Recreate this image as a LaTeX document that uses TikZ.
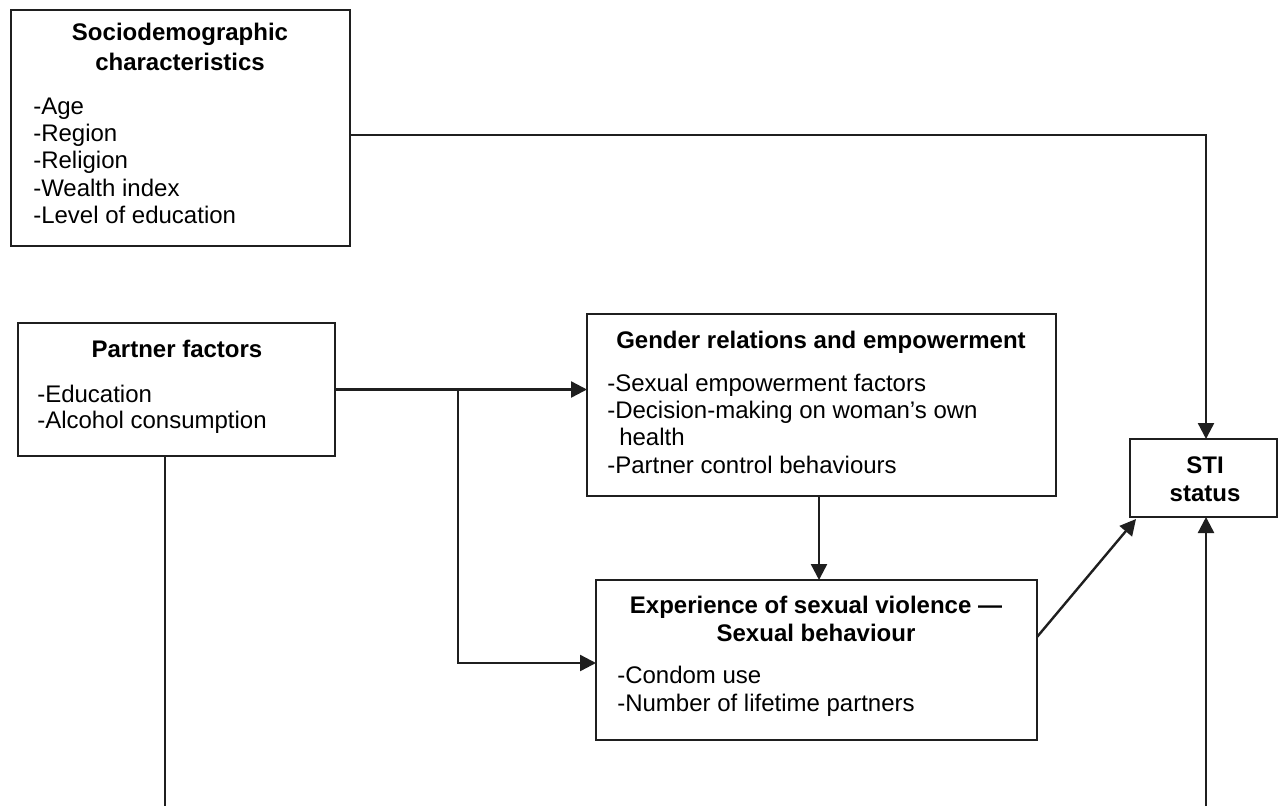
\documentclass[tikz,border=0pt]{standalone}
\usepackage{fontspec}
\setmainfont{Liberation Sans}
\usetikzlibrary{arrows.meta,calc}
\begin{document}
\begin{tikzpicture}[x=0.75pt,y=-0.75pt,
  box/.style={draw=black!88, line width=1.5pt, inner sep=0pt, outer sep=0pt},
  bx/.style n args={2}{box, anchor=north west, minimum width={#1*0.75pt}, minimum height={#2*0.75pt}},
  ttl/.style={font=\fontsize{18pt}{21pt}\selectfont\bfseries, anchor=base, inner sep=0pt},
  itm/.style={font=\fontsize{18pt}{21pt}\selectfont, anchor=base west, inner sep=0pt},
  conn/.style={line width=1.8pt, draw=black!88},
  arr/.style={conn, -{Triangle[length=12pt,width=12pt]}}]
\useasboundingbox (0,0) rectangle (1280,806);

% boxes
\node[bx={339}{236}] (socio) at (11,10) {};
\node[bx={317}{133}] (partner) at (18,323) {};
\node[bx={469}{182}] (gender) at (587,314) {};
\node[bx={441}{160}] (exper) at (596,580) {};
\node[bx={147}{78}] (sti) at (1130,439) {};

% socio texts
\node[ttl] (s1) at (180,41) {Sociodemographic};
\node[ttl] (s2) at (180,71) {characteristics};
\node[itm] (s3) at (33,115) {-Age};
\node[itm] (s4) at (33,142) {-Region};
\node[itm] (s5) at (33,169) {-Religion};
\node[itm] (s6) at (33,196) {-Wealth index};
\node[itm] (s7) at (33,223) {-Level of education};

% partner texts
\node[ttl] (p1) at (177,357) {Partner factors};
\node[itm] (p2) at (37,402) {-Education};
\node[itm] (p3) at (37,428) {-Alcohol consumption};

% gender texts
\node[ttl] (g1) at (821,348) {Gender relations and empowerment};
\node[itm] (g2) at (607,391) {-Sexual empowerment factors};
\node[itm] (g3) at (607,418) {-Decision-making on woman’s own};
\node[itm] (g4) at (619,445) {health};
\node[itm] (g5) at (607,473) {-Partner control behaviours};

% experience texts
\node[ttl] (e1) at (816,613) {Experience of sexual violence —};
\node[ttl] (e2) at (816,641) {Sexual behaviour};
\node[itm] (e3) at (617,683) {-Condom use};
\node[itm] (e4) at (617,711) {-Number of lifetime partners};

% STI texts
\node[ttl] (t1) at (1205,473) {STI};
\node[ttl] (t2) at (1205,501) {status};

% connector helper coordinates
\coordinate (sl) at (1206,135);
\coordinate (br) at (458,663);
\coordinate (pb) at (165,806);
\coordinate (sb) at (1206,806);
\coordinate (dg) at (1037,637);
\coordinate (dt) at (1136,519);

% connectors
\draw[arr] (socio.east |- sl) -- (sl) -- (sl |- sti.north);
\draw[arr] (partner.east) -- (partner.east -| gender.west);
\draw[arr] (partner.east -| br) -- (br) -- (br -| exper.west);
\draw[arr] (gender.south -| 819,0) -- (exper.north -| 819,0);
\draw[arr] (dg) -- (dt);
\draw[conn] (pb |- partner.south) -- (pb);
\draw[arr] (sb) -- (sb |- sti.south);
\end{tikzpicture}
\end{document}
